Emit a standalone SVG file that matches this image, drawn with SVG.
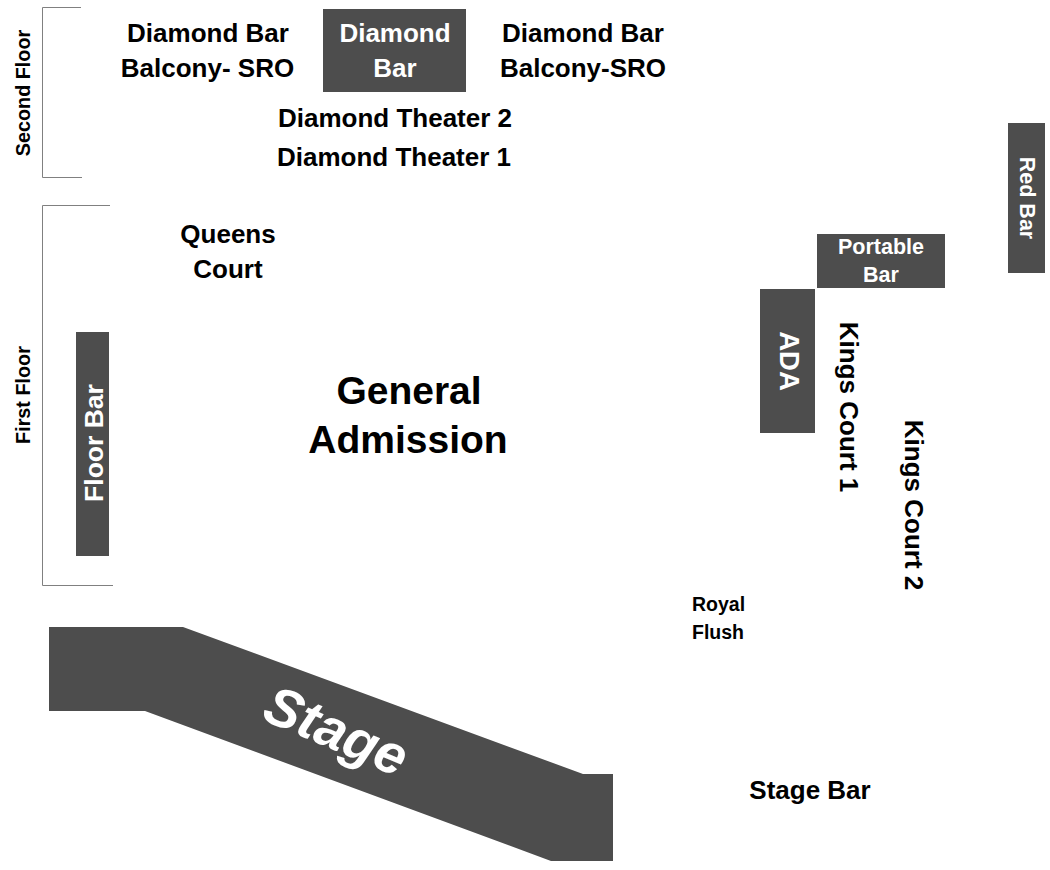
<svg xmlns="http://www.w3.org/2000/svg" width="1050" height="870" viewBox="0 0 1050 870">
<style>
text{font-family:"Liberation Sans",Arial,sans-serif;font-weight:bold;text-anchor:middle;fill:#000}
.d{fill:#4d4d4d}
.w{fill:#fff}
.b{fill:none;stroke:#808080;stroke-width:1}
.s26{font-size:26px}
.s20{font-size:19.8px}
.s21{font-size:21.5px}
.s39{font-size:39px}
.s19{font-size:19.5px;text-anchor:start}
</style>
<rect width="1050" height="870" fill="#fff"/>
<g id="brackets">
<path class="b" d="M81 7.500H42.500V177.500H82"/>
<path class="b" d="M110 205.500H42.500V585.500H113"/>
</g>
<g id="second-floor"><text class="s20" transform="translate(29.500 93) rotate(-90)">Second Floor</text></g>
<g id="first-floor"><text class="s20" transform="translate(29.500 395) rotate(-90)">First Floor</text></g>
<g id="balcony-left"><text class="s26" x="208" y="42">Diamond Bar</text><text class="s26" x="207.500" y="77">Balcony- SRO</text></g>
<g id="diamond-bar"><rect class="d" x="323" y="9" width="143" height="83"/><text class="s26 w" x="395" y="42">Diamond</text><text class="s26 w" x="395" y="77">Bar</text></g>
<g id="balcony-right"><text class="s26" x="583" y="42">Diamond Bar</text><text class="s26" x="583" y="77">Balcony-SRO</text></g>
<g id="theater-2"><text class="s26" x="395" y="127">Diamond Theater 2</text></g>
<g id="theater-1"><text class="s26" x="394" y="166">Diamond Theater 1</text></g>
<g id="queens"><text class="s26" x="228" y="242.500">Queens</text><text class="s26" x="228" y="277.500">Court</text></g>
<g id="floor-bar"><rect class="d" x="76" y="332" width="33" height="224"/><text class="w" font-size="26.500" transform="translate(102.500 443) rotate(-90)">Floor Bar</text></g>
<g id="ga"><text class="s39" x="409" y="404">General</text><text class="s39" x="408" y="453">Admission</text></g>
<g id="red-bar"><rect class="d" x="1008" y="123" width="37" height="150"/><text class="s21 w" transform="translate(1019.500 198) rotate(90)">Red Bar</text></g>
<g id="portable-bar"><rect class="d" x="817" y="234" width="128" height="54"/><text class="s21 w" x="881" y="254">Portable</text><text class="s21 w" x="881" y="282">Bar</text></g>
<g id="ada"><rect class="d" x="760" y="289" width="55" height="144"/><text class="w" font-size="27.500" transform="translate(779.500 361) rotate(90)">ADA</text></g>
<g id="kings-1"><text class="s26" transform="translate(840 407) rotate(90)">Kings Court 1</text></g>
<g id="kings-2"><text class="s26" transform="translate(905 505) rotate(90)">Kings Court 2</text></g>
<g id="royal"><text class="s19" x="692" y="611">Royal</text><text class="s19" x="692" y="639">Flush</text></g>
<g id="stage"><path class="d" d="M49 627H183L583 774H613V861H551L145 711H49Z"/><text class="w" transform="translate(329 748) rotate(23)" font-size="55" font-style="italic">Stage</text></g>
<g id="stage-bar"><text class="s26" x="810" y="799">Stage Bar</text></g>
<g id="connectors"/>
</svg>
